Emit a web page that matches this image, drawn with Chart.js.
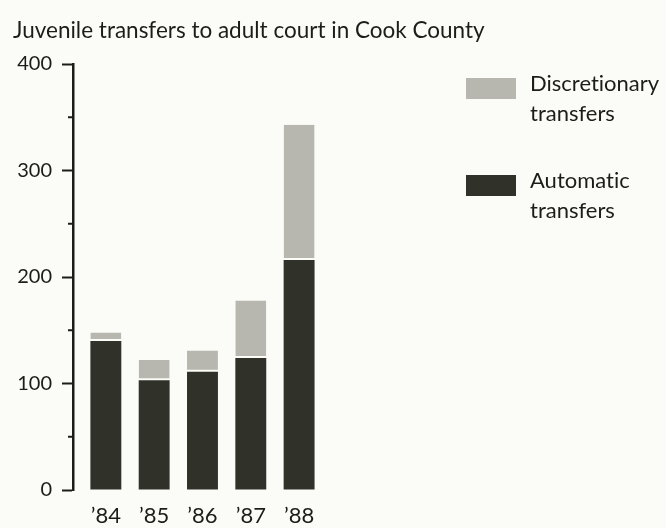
<!DOCTYPE html>
<html>
<head>
<meta charset="utf-8">
<title>Juvenile transfers to adult court in Cook County</title>
<script src="https://cdn.jsdelivr.net/npm/chart.js@4.4.1/dist/chart.umd.min.js"></script>
<style>
    html, body {
        margin: 0;
        padding: 0;
        background: #fbfbf7;
    }
    #wrap {
        position: relative;
        width: 666px;
        height: 528px;
    }
    #legend .item-box {
        position: absolute;
        width: 50px;
        height: 21px;
    }
    #legend .item-text {
        position: absolute;
        font-family: Lato, sans-serif;
        font-size: 22px;
        line-height: 30px;
        font-variant-ligatures: none;
        color: #1c1c1a;
    }
</style>
</head>
<body>
<div id="wrap">
    <canvas id="transfers-chart" width="666" height="528"></canvas>
    <div id="legend"></div>
</div>
<script>
const years = ['\u201984', '\u201985', '\u201986', '\u201987', '\u201988'];
const automatic = [140, 103, 111, 124, 216];
const discretionary = [8, 19, 20, 54, 127];
const yTicks = [0, 50, 100, 150, 200, 250, 300, 350, 400];

const ink = '#1c1c1a';
const darkFill = '#30322a';
const lightFill = '#b7b7af';
const bg = '#fbfbf7';

// short ticks at the 50s, long ones come from the grid
const minorTicks = {
    id: 'minorTicks',
    afterDraw(chart) {
        const y = chart.scales.y;
        const ctx = chart.ctx;
        ctx.save();
        ctx.strokeStyle = ink;
        ctx.lineWidth = 2;
        y.ticks.forEach(t => {
            if (t.value % 100 === 0) return;
            const py = y.getPixelForValue(t.value);
            ctx.beginPath();
            ctx.moveTo(y.right - 5, py);
            ctx.lineTo(y.right, py);
            ctx.stroke();
        });
        ctx.restore();
    }
};

const chart = new Chart(document.getElementById('transfers-chart'), {
    type: 'bar',
    data: {
        datasets: [{
            label: 'Automatic transfers',
            data: automatic.map((v, i) => ({ x: i, y: v })),
            backgroundColor: darkFill,
            borderWidth: 0
        }, {
            label: 'Discretionary transfers',
            data: discretionary.map((v, i) => ({ x: i, y: v })),
            backgroundColor: lightFill,
            borderColor: bg,
            borderWidth: { top: 0, left: 0, right: 0, bottom: 2 },
            borderSkipped: false
        }]
    },
    options: {
        responsive: false,
        animation: false,
        categoryPercentage: 0.8,
        barPercentage: 0.8,
        layout: {
            padding: { left: 13, right: 6, top: 0, bottom: 0 }
        },
        scales: {
            x: {
                type: 'linear',
                stacked: true,
                offset: false,
                min: -0.68,
                max: 11.47,
                grid: { display: false },
                border: { display: false },
                afterBuildTicks(scale) {
                    scale.ticks = years.map((_, i) => ({ value: i }));
                },
                afterFit(scale) {
                    scale.height = 38;
                },
                ticks: {
                    color: ink,
                    padding: 5,
                    maxRotation: 0,
                    autoSkip: false,
                    font: { family: 'Lato', size: 22 },
                    callback: v => years[v] ?? ''
                }
            },
            y: {
                stacked: true,
                min: 0,
                max: 400,
                afterFit(scale) {
                    scale.width = 60;
                },
                afterBuildTicks(scale) {
                    scale.ticks = yTicks.map(v => ({ value: v }));
                },
                grid: {
                    drawOnChartArea: false,
                    tickLength: 11,
                    tickWidth: 2,
                    tickColor: ctx => ctx.tick && ctx.tick.value % 100 === 0 ? ink : 'rgba(0,0,0,0)'
                },
                border: { display: true, color: ink, width: 2.5 },
                ticks: {
                    color: ink,
                    padding: 10,
                    font: { family: 'Lato', size: 20 },
                    callback: v => v % 100 === 0 ? v : ''
                }
            }
        },
        plugins: {
            legend: { display: false },
            tooltip: { enabled: false },
            title: {
                display: true,
                text: 'Juvenile transfers to adult court in Cook County',
                align: 'start',
                color: ink,
                font: { family: 'Lato', size: 22.5, weight: 'normal' },
                padding: { top: 17, bottom: 20 }
            }
        }
    },
    plugins: [minorTicks]
});

// legend drawn as html, discretionary on top like the original
function renderLegend() {
    const box = document.getElementById('legend');
    box.innerHTML = '';
    const items = chart.data.datasets.slice().reverse();
    items.forEach((ds, i) => {
        const sq = document.createElement('div');
        sq.className = 'item-box';
        sq.style.left = '466px';
        sq.style.top = (78 + i * 97) + 'px';
        sq.style.background = ds.backgroundColor;
        box.appendChild(sq);

        const txt = document.createElement('div');
        txt.className = 'item-text';
        txt.style.left = '530px';
        txt.style.top = (68 + i * 97) + 'px';
        txt.innerHTML = ds.label.split(' ').join('<br>');
        box.appendChild(txt);
    });
}

renderLegend();
</script>
</body>
</html>
